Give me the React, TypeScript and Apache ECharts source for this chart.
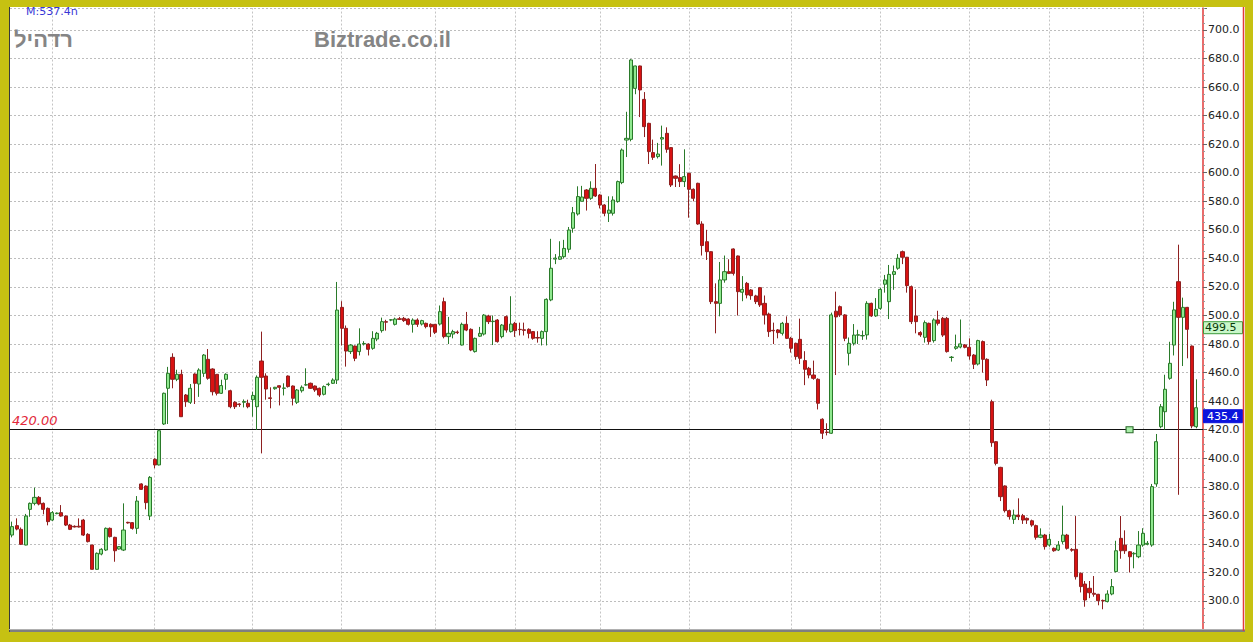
import React, { useEffect, useRef } from "react";
import * as echarts from "echarts";

// Daily OHLC values (oldest first)
const OPEN = [
  346.2, 352.8, 350.2, 339.2, 364.2, 368.4, 372.6, 368.4, 364.9, 356.7,
  361.2, 361.9, 359.5, 353.2, 352.3, 352.4, 356.7, 346.7, 339.2, 322.2,
  332.9, 335.7, 350.9, 344.6, 336.4, 335.7, 355.1, 354.9, 350.9, 382,
  380.5, 359.5, 399.2, 395.3, 424, 449, 470.7, 455.3, 458.8, 444.3,
  439.2, 459, 452, 459.5, 469.3, 462.5, 458.8, 445.5, 455.3, 447.3,
  439.2, 438, 439.2, 438.5, 441, 436.1, 468.1, 457.6, 442.3, 448.7,
  450.8, 449, 457.6, 450.6, 439.2, 447.3, 451.3, 452.5, 450.6, 449,
  444.8, 451.6, 452.5, 454.8, 505.7, 491, 474.7, 478.6, 474.7, 480,
  480, 477, 483.5, 489.4, 495.7, 496.8, 493.8, 497.7, 498, 497.5,
  493.8, 496.8, 494, 494.5, 493.8, 493.8, 494, 509.7, 485.2, 487,
  488.4, 479.3, 493.8, 490.3, 474.7, 485.5, 487, 499.6, 495.7, 496.8,
  485.2, 499.2, 488.7, 494.5, 490.3, 490, 490.3, 488.7, 484.6, 484,
  488.7, 510.9, 539.5, 539.4, 541.2, 546.4, 561.1, 571.1, 580, 587.9,
  582.1, 589.1, 584.4, 577.4, 571.6, 571.6, 579.8, 593.1, 622.9, 623.4,
  659.1, 674.8, 651.4, 634.6, 614.1, 611.3, 623.6, 627.6, 617.6, 597.7,
  596.6, 593.8, 599.6, 588.4, 592.6, 564.1, 551.7, 544.7, 509.7, 508.5,
  524.9, 530.7, 546.6, 541.7, 516.3, 522.5, 517.9, 513.7, 519.5, 508.5,
  501, 489.6, 489.9, 487.5, 494.5, 484, 480.5, 483.3, 468.4, 463,
  458.3, 455.3, 427.3, 418.3, 417.5, 503, 506.2, 500.4, 473.5, 480.5,
  486.2, 485.7, 486.4, 508.5, 499.7, 505, 521.9, 509.7, 528.8, 533.1,
  544.7, 540.8, 520.2, 499.7, 488, 484.7, 494.5, 482.4, 496.9, 498,
  498, 470.6, 477, 477.9, 479.4, 477.7, 472.3, 466, 481.7, 469.3,
  439.6, 411.6, 393.6, 380.6, 363.3, 357.2, 360.2, 359.8, 357.9, 356.2,
  352.8, 344.6, 346.2, 339.2, 336.9, 335.7, 341.6, 346.2, 336.1, 336.2,
  319.4, 311.9, 308.9, 305.4, 304.7, 300.4, 299.6, 304.9, 320.6, 343.9,
  339.2, 334.5, 333, 331, 339.2, 339.7, 339.2, 382, 422.1, 432.6,
  456, 479.3, 523.7, 498.7, 505.7, 478.6, 422.1,
];
const CLOSE = [
  352.1, 350.4, 339.7, 359.5, 368.4, 372.6, 367.9, 364.2, 355.6, 361.9,
  361.6, 359.5, 353.2, 350.2, 351.9, 351.8, 346.2, 341.6, 322.2, 333.4,
  336.2, 350.9, 345.1, 335.2, 338.1, 349.7, 354.7, 350.9, 370, 378.2,
  368.9, 386.6, 395.3, 419.3, 445.5, 459.5, 455.3, 458.8, 429.1, 439.6,
  449, 452.5, 461.8, 472.3, 456, 446.6, 445.5, 450.9, 458.8, 436.1,
  436.1, 437.6, 439.8, 436.1, 444, 456.7, 456.7, 448.5, 441.9, 449.7,
  449.7, 449.2, 450.2, 442, 447.8, 449.7, 451.5, 449, 447.8, 444.3,
  450.2, 451.9, 454.8, 503.8, 491, 475.1, 479.3, 470, 480, 480.4,
  476.3, 484, 487.5, 495.7, 495.3, 497, 497.5, 497.3, 496.4, 493.8,
  496.8, 493.8, 496.4, 492.2, 492, 488.2, 502.7, 485.2, 487.5, 488.7,
  488, 493.8, 489.8, 475.8, 484, 487.5, 500.3, 495.7, 496, 481.7,
  493.3, 489.8, 494, 489.4, 490.1, 489.6, 487.5, 484, 484.2, 488.7,
  511.3, 533.1, 540.2, 541.2, 547, 559.9, 572, 583.3, 583, 582.1,
  589.1, 583.7, 577.4, 571.6, 573.8, 580.9, 593.8, 615.9, 624.1, 679,
  674.8, 658, 632.3, 614.8, 610.8, 613.1, 624.6, 616.4, 591.4, 596.1,
  593.8, 597.3, 588.4, 582.1, 564.1, 549, 544.7, 509.7, 508.5, 524.9,
  530.7, 529.5, 529.5, 516.7, 518.3, 514.4, 513.9, 509.7, 507.4, 500.4,
  488.7, 489.3, 488, 494.5, 484, 477, 471.2, 470, 462.3, 458.3,
  456, 438.5, 417.5, 418.1, 500.4, 499, 500.4, 484, 480.5, 486.3,
  486.5, 486, 508.5, 499.7, 504.3, 518.3, 524.9, 528.8, 530.7, 540.1,
  540.8, 520.9, 495.7, 495.7, 486.4, 495, 481.7, 496.9, 494.5, 486.3,
  474.7, 470.8, 478.1, 480.1, 477.7, 471.6, 465.8, 482.4, 469.3, 454.8,
  410.9, 396.4, 373.1, 363.3, 359.1, 360.2, 359.1, 356.7, 356.7, 353.2,
  344.6, 346.2, 338.1, 343.2, 335.2, 339.2, 346.2, 336.9, 335.6, 317,
  310.1, 300.7, 305.8, 304.7, 300.2, 300, 304.9, 310.1, 335.2, 335.2,
  335.2, 331, 333.4, 339.2, 347.4, 340.4, 380.1, 411.6, 436.1, 448.3,
  466.5, 503.9, 498.7, 505.7, 490.3, 422.6, 435.4,
];
const LOW = [
  344.6, 349.5, 339.2, 339, 359, 367, 367, 360.7, 353, 356,
  360.8, 359, 352.5, 349.7, 351.5, 351.5, 345.5, 341, 322, 322,
  332, 335, 344.5, 327.5, 336, 335, 354.2, 350, 347, 377.8,
  364.2, 356.7, 393, 395, 423.3, 424, 449, 454, 429, 436,
  438, 438, 443, 457, 455, 444, 444, 445, 448, 435,
  434.5, 436, 435.6, 435, 429.1, 419.8, 403.4, 441, 435, 448,
  437, 444, 449.5, 437, 438, 446, 450.8, 448.5, 446.5, 443,
  444, 450.5, 452, 452, 479, 464.2, 473, 468, 472, 479,
  472, 476, 482, 488, 489.4, 496, 493, 496.8, 495.5, 493,
  488, 492, 493, 491, 485, 487, 493, 484, 480, 484,
  487, 479, 489, 475, 474, 485, 486, 494, 479.3, 481,
  484, 488, 488, 485, 486, 486, 484, 483, 481, 479,
  479, 510, 536, 539, 540, 544, 558, 570, 580, 573.5,
  581, 583, 575, 569.5, 565.5, 570, 579, 592, 611, 622,
  655, 639, 625, 606.1, 609, 610, 605, 614, 590, 590,
  590, 590, 568.5, 580, 563.5, 542, 538.9, 508, 487.5, 499.4,
  523, 529, 528, 500, 510, 512, 511, 508, 506, 493.7,
  485, 480, 484, 486, 483.5, 474, 469, 466, 451.2, 456,
  455, 434.2, 413.5, 416, 417, 458.3, 499, 482, 465, 479,
  480, 482.9, 483.1, 499, 499, 504, 516, 497.5, 518, 532,
  536, 516, 494, 487.5, 485, 481, 479.6, 481, 493, 485,
  474, 467.7, 476, 477, 477, 469, 462.5, 465, 460, 450.6,
  408, 395, 370, 362, 357, 354, 356.7, 354, 354, 352,
  343, 344, 336, 338, 334.5, 335, 340, 336, 334.5, 315,
  306, 296, 302, 303, 297, 294.2, 299, 304, 320, 329.6,
  333, 320, 322.9, 330, 338, 339, 338, 380, 421, 420,
  455, 472, 374.4, 464.6, 470, 421, 421,
];
const HIGH = [
  355.6, 357.9, 351.5, 361, 369, 379.4, 373.5, 369, 365.5, 363,
  362, 367.2, 360, 354, 353, 357.9, 357.5, 347.5, 339.5, 334,
  337, 351.5, 351.5, 345, 338.5, 368.4, 355.5, 355.3, 373.5, 382.5,
  381, 387.5, 400, 420, 446, 464, 473.5, 462, 462, 445,
  452, 459.5, 463, 473, 476.5, 463, 459, 455, 459.5, 448,
  440, 438.5, 441.2, 441, 446.6, 458, 488.7, 459.5, 449.7, 450,
  451, 452.5, 458, 451, 448.5, 451, 463, 453, 451, 449.5,
  451, 453, 456, 523.5, 510, 493, 480, 479, 491, 482,
  480.5, 489, 488.5, 498.5, 497, 497.5, 498.5, 499, 499, 498,
  498, 498, 497, 495, 494.5, 494, 507, 512.5, 499, 490,
  489.5, 495, 502.5, 491, 484.5, 492, 501, 500.5, 500, 497.5,
  494, 500, 513.5, 495.5, 495, 495, 491, 489, 489, 489.5,
  512, 553.7, 543, 552, 553, 562, 576, 590.5, 590.8, 588.5,
  594, 606.1, 585, 578, 583.5, 583.5, 594.5, 617, 642.7, 679.5,
  675, 675, 656.5, 635, 623.2, 620.9, 633, 631.8, 618, 598,
  606, 616.4, 600, 589, 593, 566, 560, 545, 522.5, 537.5,
  542, 539.4, 547, 542, 527.6, 523.5, 518.5, 514.5, 520, 514,
  502, 495, 490.5, 495.5, 499.4, 485, 481, 497.8, 475, 464,
  468.4, 456, 428, 424.5, 502, 516.7, 507, 501, 484.6, 494,
  490, 489.4, 510, 509, 512.2, 519.5, 528.4, 535.4, 535, 543,
  545.5, 541, 521, 518.3, 489, 496.5, 495, 498, 503.3, 499,
  499, 471.6, 486.6, 497.2, 480, 484, 473, 483, 482.5, 470,
  441, 412, 394, 381, 364, 364, 371.9, 361, 358.5, 357,
  353.5, 350.9, 347, 347, 337.5, 342, 366.8, 347, 337, 359.5,
  320, 314, 314, 317.5, 305, 301, 307.5, 315.4, 342.2, 359.5,
  349.5, 335, 334.2, 349, 351, 342, 382, 417, 438, 458.5,
  481.6, 509.6, 549.6, 512.5, 506, 479, 455.3,
];

// Indices of the candles that carry a vertical (period) grid line
const PERIOD_START_IDX = [9, 32, 54, 74, 95, 113, 132, 152, 175, 195, 215, 233, 254];
const Y_MIN = 280;
const Y_MAX = 715.4;
const Y_STEP = 20;
const SUPPORT_LEVEL = 420;
const SUPPORT_LABEL = "420.00";
const MARKER_IDX = 251;
const REF_PRICE = 499.5;
const LAST_PRICE = 435.4;
const TITLE = "רדהיל";
const SITE = "Biztrade.co.il";
const INFO = "M:537.4ח";

const YELLOW = "#c6c112";

export default function App() {
  const ref = useRef<HTMLDivElement>(null);
  useEffect(() => {
    document.body.style.margin = "0";
    const chart = echarts.init(ref.current!, null, { renderer: "svg" });
    const n = OPEN.length;
    const cats = Array.from({ length: n + 1 }, (_, i) => "D" + (i + 1));
    const data = OPEN.map((o, i) => [o, CLOSE[i], LOW[i], HIGH[i]]);

    chart.setOption({
      animation: false,
      backgroundColor: "#ffffff",
      grid: { left: 10, right: 50, top: 8, bottom: 12.45, containLabel: false },
      xAxis: {
        type: "category",
        data: cats,
        boundaryGap: true,
        axisLine: { show: false },
        axisTick: { show: false },
        axisLabel: { show: false },
        splitLine: { show: false },
      },
      yAxis: {
        type: "value",
        position: "right",
        min: Y_MIN,
        max: Y_MAX,
        interval: Y_STEP,
        axisLine: { show: true, lineStyle: { color: "#e23a3a", width: 1.5 } },
        axisTick: { show: true, length: 4, lineStyle: { color: "#666" } },
        minorTick: { show: true, splitNumber: 4, length: 2, lineStyle: { color: "#999" } },
        axisLabel: {
          show: true,
          margin: 5,
          color: "#222",
          fontSize: 11,
          fontFamily: "DejaVu Sans",
          formatter: (v: number) => v.toFixed(1),
          showMinLabel: false,
          showMaxLabel: false,
        },
        splitLine: { show: true, lineStyle: { color: "#bdbdbd", type: [2, 2], width: 1 } },
      },
      series: [
        {
          type: "candlestick",
          data,
          barWidth: 3.6,
          z: 3,
          itemStyle: {
            color: "#8fe88f",
            color0: "#d81212",
            borderColor: "#2a7a2a",
            borderColor0: "#8e2020",
            borderWidth: 1,
          },
          markLine: {
            silent: true,
            z: 1,
            symbol: ["none", "none"],
            label: { show: false },
            data: [
              ...PERIOD_START_IDX.map((i) => ({
                xAxis: cats[i],
                lineStyle: { color: "#c4c4c4", type: [2, 2], width: 1 },
              })),
              { yAxis: SUPPORT_LEVEL, lineStyle: { color: "#111", type: "solid", width: 1 } },
            ],
          },
          markPoint: {
            silent: true,
            symbol: "rect",
            symbolSize: [7, 6],
            label: { show: false },
            itemStyle: { color: "#a8eea8", borderColor: "#2a6a2a", borderWidth: 1 },
            data: [{ coord: [cats[MARKER_IDX], SUPPORT_LEVEL] }],
          },
        },
      ],
    });

    const yRef = chart.convertToPixel({ yAxisIndex: 0 }, REF_PRICE) as number;
    const yLast = chart.convertToPixel({ yAxisIndex: 0 }, LAST_PRICE) as number;
    const ySup = chart.convertToPixel({ yAxisIndex: 0 }, SUPPORT_LEVEL) as number;

    chart.setOption({
      graphic: [
        { type: "text", x: 26, y: 11.5, z: 50, style: { text: INFO, font: "11px 'DejaVu Sans'", fill: "#3838d6", verticalAlign: "middle" } },
        { type: "text", x: 14, y: 39, z: 50, style: { text: TITLE, font: "bold 22px 'Liberation Sans'", fill: "#858585", verticalAlign: "middle" } },
        { type: "text", x: 314, y: 39, z: 50, style: { text: SITE, font: "bold 22px 'Liberation Sans'", fill: "#858585", verticalAlign: "middle" } },
        { type: "text", x: 12, y: ySup - 9, z: 50, style: { text: SUPPORT_LABEL, font: "italic 13px 'DejaVu Sans'", fill: "#e2283a", verticalAlign: "middle" } },
        { type: "rect", z: 50, shape: { x: 1203.5, y: yRef + 5.5, width: 39, height: 12 }, style: { fill: "#c9f7c9", stroke: "#3a9a3a", lineWidth: 1 } },
        { type: "text", x: 1205, y: yRef + 11.5, z: 51, style: { text: REF_PRICE.toFixed(1), font: "11px 'DejaVu Sans'", fill: "#0a3a0a", verticalAlign: "middle" } },
        { type: "rect", z: 50, shape: { x: 1203.5, y: yLast + 2, width: 39, height: 13 }, style: { fill: "#0c14dc", stroke: "#0c14dc", lineWidth: 1 } },
        { type: "text", x: 1207, y: yLast + 8.5, z: 51, style: { text: LAST_PRICE.toFixed(1), font: "11px 'DejaVu Sans'", fill: "#ffffff", verticalAlign: "middle" } },
        // frame
        { type: "rect", z: 100, shape: { x: 0, y: 0, width: 1253, height: 7 }, style: { fill: YELLOW } },
        { type: "rect", z: 100, shape: { x: 0, y: 0, width: 9, height: 642 }, style: { fill: YELLOW } },
        { type: "rect", z: 100, shape: { x: 1245, y: 0, width: 8, height: 642 }, style: { fill: YELLOW } },
        { type: "rect", z: 100, shape: { x: 0, y: 632, width: 1253, height: 10 }, style: { fill: YELLOW } },
        { type: "line", z: 101, shape: { x1: 9.5, y1: 7, x2: 9.5, y2: 632 }, style: { stroke: "#3a3a3a", lineWidth: 1 } },
        { type: "line", z: 101, shape: { x1: 9, y1: 629.5, x2: 1245, y2: 629.5 }, style: { stroke: "#b0b0b0", lineWidth: 1 } },
        { type: "line", z: 101, shape: { x1: 9, y1: 631, x2: 1245, y2: 631 }, style: { stroke: "#555", lineWidth: 1.5 } },
        { type: "line", z: 101, shape: { x1: 1243.5, y1: 7, x2: 1243.5, y2: 631 }, style: { stroke: "#e23a3a", lineWidth: 1.5 } },
      ],
    });

    return () => chart.dispose();
  }, []);
  return (
    <div
      ref={ref}
      style={{ position: "fixed", left: 0, top: 0, width: 1253, height: 642, background: "#fff" }}
    />
  );
}
